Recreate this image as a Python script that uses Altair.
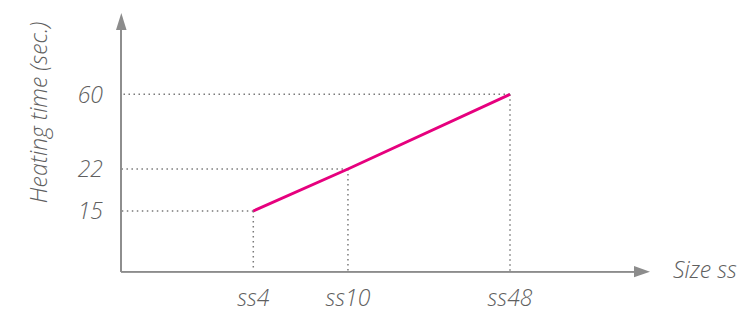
import altair as alt
import pandas as pd

# Data
sizes = [4, 10, 48]
size_labels = ["ss4", "ss10", "ss48"]
heating_times = [15, 22, 60]

df = pd.DataFrame({"size": sizes, "label": size_labels, "time": heating_times})

AXIS_GRAY = "#8c8c8c"
TEXT_GRAY = "#5f5f5f"
LINE_COLOR = "#e6007e"
FONT = "Open Sans"
FS = 23

x_scale = alt.Scale(type="log", domain=[4, 48], range=[245.3, 502], nice=False)
y_scale = alt.Scale(type="linear", domain=[15, 22, 60], range=[203, 161, 86.3], zero=False, nice=False)

X = alt.X("size:Q", scale=x_scale, axis=None)
Y = alt.Y("time:Q", scale=y_scale, axis=None)

base = alt.Chart(df)

# dotted guide lines
h_guides = base.mark_rule(color="#7a7a7a", strokeWidth=1.5, strokeDash=[1.5, 3.5]).encode(
    x=X, x2=alt.value(113), y=Y
)
v_guides = base.mark_rule(color="#7a7a7a", strokeWidth=1.5, strokeDash=[1.5, 3.5]).encode(
    x=X, y=Y, y2=alt.value(263.7)
)

# main line
line = base.mark_line(color=LINE_COLOR, strokeWidth=3).encode(x=X, y=Y)

# axes lines
y_axis = base.mark_rule(color=AXIS_GRAY, strokeWidth=1.5).encode(
    x=alt.value(113), y=alt.value(18), y2=alt.value(263.7)
)
x_axis = base.mark_rule(color=AXIS_GRAY, strokeWidth=1.5).encode(
    x=alt.value(113), x2=alt.value(628), y=alt.value(263.7)
)
y_arrow = alt.Chart(pd.DataFrame({"a": [0]})).mark_point(
    shape="M0,-1L0.62,1L-0.62,1Z", filled=True, opacity=1, color=AXIS_GRAY, size=289
).encode(x=alt.value(113.3), y=alt.value(13.4))
x_arrow = alt.Chart(pd.DataFrame({"a": [0]})).mark_point(
    shape="M1,0L-1,0.7L-1,-0.7Z", filled=True, opacity=1, color=AXIS_GRAY, size=256
).encode(x=alt.value(634), y=alt.value(263.7))

text_style = dict(font=FONT, fontSize=FS, fontStyle="italic", fontWeight=300, color=TEXT_GRAY)

# tick labels
y_labels = base.mark_text(align="right", baseline="alphabetic", dy=8.2, **text_style).encode(
    x=alt.value(95), y=Y, text=alt.Text("time:Q")
)

x_labels = base.mark_text(align="center", baseline="alphabetic", **text_style).encode(
    x=X, y=alt.value(297.5), text="label:N"
)

# axis titles
y_title = alt.Chart(pd.DataFrame({"t": ["Heating time (sec.)"]})).mark_text(
    align="center", baseline="alphabetic", angle=270, **text_style
).encode(x=alt.value(38.5), y=alt.value(104.5), text="t:N")

x_title = alt.Chart(pd.DataFrame({"t": ["Size ss"]})).mark_text(
    align="left", baseline="alphabetic", **text_style
).encode(x=alt.value(665), y=alt.value(270), text="t:N")

chart = alt.layer(
    h_guides, v_guides, y_axis, x_axis, y_arrow, x_arrow, line,
    y_labels, x_labels, y_title, x_title
).properties(
    width=734, height=303, padding=0,
    autosize=alt.AutoSizeParams(type="none")
).configure_view(strokeWidth=0, stroke="transparent")

chart.save("out.html", embed_options={"renderer": "svg", "actions": False})
